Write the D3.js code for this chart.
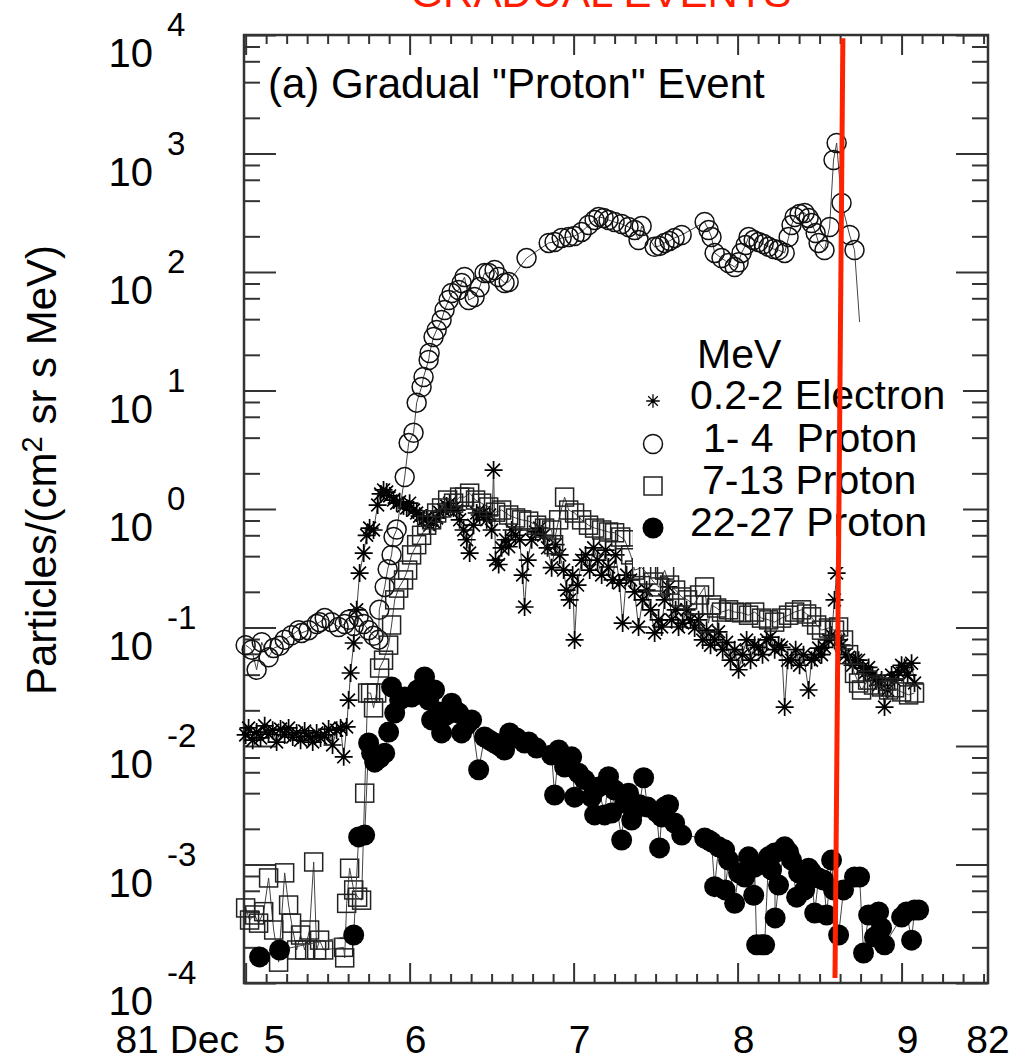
<!DOCTYPE html>
<html lang="en">
<head>
  <meta charset="UTF-8">
  <title>Gradual "Proton" Event</title>
  <style>
    body {
      margin: 0;
      padding: 0;
      background: #fff;
    }
    svg {
      display: block;
      font-family: "Liberation Sans", Arial, Helvetica, sans-serif;
    }
    .axis path { display: none; }
    .axis line { stroke: #333; stroke-width: 2; }
    .link { fill: none; stroke: #444; stroke-width: 1; }
  </style>
</head>
<body>
  <svg id="chart" width="1013" height="1060"></svg>
  <script src="https://d3js.org/d3.v7.min.js"></script>
  <script>
    // time in days of December 1981, flux in particles/(cm2 sr s MeV)

    // 0.2-2 MeV electrons (asterisks)
    const electronDay = [5.00,5.018,5.043,5.067,5.091,5.116,5.140,5.165,5.189,5.213,5.238,5.262,5.287,5.311,5.335,5.360,5.384,5.409,5.433,5.457,
      5.482,5.506,5.530,5.555,5.579,5.598,5.616,5.628,5.640,5.659,5.677,5.695,5.720,5.738,5.756,5.780,5.805,5.823,5.841,5.860,
      5.878,5.902,5.921,5.939,5.963,5.982,6.000,6.024,6.043,6.061,6.085,6.104,6.122,6.146,6.165,6.183,6.207,6.226,6.244,6.268,
      6.287,6.305,6.329,6.348,6.366,6.390,6.409,6.427,6.451,6.470,6.488,6.500,6.512,6.524,6.543,6.561,6.585,6.604,6.622,6.646,
      6.671,6.689,6.701,6.720,6.744,6.768,6.793,6.817,6.841,6.866,6.890,6.915,6.939,6.957,6.976,6.994,7.006,7.024,7.049,7.073,
      7.098,7.122,7.146,7.171,7.195,7.213,7.238,7.256,7.280,7.299,7.323,7.348,7.372,7.396,7.421,7.445,7.470,7.494,7.518,7.537,
      7.555,7.579,7.598,7.622,7.640,7.665,7.689,7.713,7.738,7.762,7.787,7.811,7.835,7.860,7.884,7.909,7.933,7.957,7.982,8.006,
      8.030,8.055,8.079,8.104,8.128,8.152,8.177,8.201,8.226,8.250,8.268,8.287,8.305,8.329,8.354,8.378,8.402,8.433,8.451,8.470,
      8.494,8.512,8.530,8.555,8.573,8.591,8.604,8.616,8.634,8.659,8.677,8.701,8.720,8.738,8.762,8.780,8.799,8.823,8.841,8.860,
      8.878,8.896,8.915,8.939,8.957,8.982,9.000,9.018,9.037,9.061,9.079];
    const electronFlux = [1.24e-2,1.42e-2,1.12e-2,1.31e-2,1.17e-2,1.48e-2,1.26e-2,1.36e-2,1.08e-2,1.39e-2,1.24e-2,1.42e-2,1.19e-2,1.29e-2,1.12e-2,1.34e-2,1.21e-2,1.08e-2,1.29e-2,1.17e-2,
      1.24e-2,1.39e-2,1.02e-2,1.36e-2,1.42e-2,8.1e-3,1.45e-2,2.44e-2,4.13e-2,7.4e-2,0.141,0.288,0.425,0.60,0.69,0.665,1.08,1.34,1.45,1.39,
      1.29,1.19,1.12,1.15,1.06,1.02,1.12,0.98,0.925,0.87,0.81,0.84,0.73,0.78,0.84,0.94,0.98,1.06,1.12,1.02,
      0.98,0.81,0.665,0.55,0.425,0.73,0.925,0.89,0.925,0.81,0.89,0.665,2.13,0.37,0.34,0.47,0.55,0.48,0.665,0.60,
      0.55,0.277,0.149,0.37,0.55,0.64,0.69,0.60,0.47,0.32,0.50,0.41,0.305,0.207,0.171,0.277,7.85e-2,0.228,0.37,0.41,
      0.305,0.47,0.37,0.277,0.45,0.324,0.252,0.41,0.237,0.109,0.277,0.252,0.20,0.101,0.171,0.207,0.141,9.0e-2,0.116,0.101,
      0.171,0.22,0.116,0.141,0.101,0.109,0.141,0.116,9.9e-2,0.116,7.85e-2,9.5e-2,7.1e-2,7.85e-2,9.2e-2,6.5e-2,7.5e-2,5.3e-2,6.5e-2,4.4e-2,
      5.9e-2,7.85e-2,5.3e-2,7.1e-2,6.8e-2,5.9e-2,7.85e-2,8.3e-2,6.5e-2,7.1e-2,6.8e-2,2.13e-2,5.3e-2,5.3e-2,6.5e-2,4.8e-2,5.9e-2,2.97e-2,5.3e-2,5.6e-2,
      6.7e-2,5.9e-2,6.8e-2,7.85e-2,8.6e-2,0.171,0.288,7.85e-2,7.1e-2,5.9e-2,5.6e-2,4.8e-2,5.3e-2,5.3e-2,4.55e-2,4.2e-2,4.6e-2,3.97e-2,3.6e-2,3.27e-2,
      3.6e-2,2.13e-2,2.97e-2,3.97e-2,3.6e-2,4.2e-2,4.8e-2,4.6e-2,3.97e-2,5.0e-2,3.4e-2];

    // 1-4 MeV protons (open circles)
    const proton1Day = [5.00,5.037,5.067,5.098,5.140,5.171,5.207,5.238,5.280,5.323,5.341,5.384,5.433,5.451,5.482,5.524,5.567,5.604,5.628,5.659,
      5.689,5.720,5.750,5.780,5.811,5.815,5.848,5.866,5.890,5.902,5.921,5.970,5.994,6.024,6.043,6.073,6.085,6.116,6.122,6.146,
      6.165,6.195,6.213,6.238,6.256,6.299,6.317,6.335,6.360,6.396,6.427,6.457,6.482,6.518,6.543,6.579,6.604,6.713,6.848,6.884,
      6.927,6.970,7.006,7.049,7.091,7.128,7.152,7.183,7.213,7.250,7.293,7.335,7.372,7.396,7.415,7.494,7.524,7.555,7.585,7.616,
      7.659,7.799,7.823,7.841,7.860,7.902,7.945,7.982,8.006,8.024,8.049,8.067,8.098,8.128,8.159,8.189,8.220,8.250,8.287,8.311,
      8.329,8.348,8.378,8.409,8.433,8.451,8.476,8.494,8.530,8.561,8.585,8.604,8.634,8.683,8.713,8.744];
    const proton1Flux = [7.1e-2,6.5e-2,4.4e-2,7.5e-2,5.6e-2,6.7e-2,7.0e-2,7.9e-2,8.6e-2,9.5e-2,9.0e-2,9.5e-2,0.107,0.111,0.120,0.111,0.101,0.107,0.116,0.103,
      0.123,0.107,0.095,0.085,0.079,0.141,0.22,0.31,0.41,0.58,0.67,1.86,3.6,4.4,7.9,10.7,13.0,18.1,20.7,28.3,
      32.4,39.4,47.8,58,66.5,70.5,80.8,90.7,58,61.5,74.7,98,98,104,90.7,80.8,82.4,131,176,179,
      194,197,201,218,249,275,291,286,275,264,254,240,226,186,244,163,166,176,183,194,
      205,264,226,197,145,131,119,110,121,145,169,197,186,179,172,163,156,153,145,197,
      249,291,308,315,286,259,213,176,153,240,881,1227,382,205,153,37.8];

    // 7-13 MeV protons (open squares)
    const proton7Day = [5.00,5.024,5.055,5.079,5.110,5.140,5.171,5.201,5.238,5.262,5.280,5.311,5.335,5.360,5.390,5.415,5.433,5.451,5.476,5.598,
      5.604,5.616,5.634,5.659,5.683,5.707,5.726,5.744,5.762,5.780,5.799,5.817,5.841,5.872,5.890,5.909,5.933,5.963,5.988,6.012,
      6.043,6.073,6.104,6.134,6.165,6.195,6.232,6.268,6.305,6.335,6.366,6.402,6.439,6.482,6.524,6.561,6.604,6.646,6.683,6.726,
      6.774,6.823,6.866,6.878,6.909,6.945,6.970,7.006,7.049,7.091,7.128,7.171,7.213,7.250,7.287,7.311,7.348,7.372,7.415,7.457,
      7.488,7.518,7.555,7.585,7.622,7.659,7.695,7.732,7.768,7.799,7.823,7.841,7.872,7.902,7.945,7.982,8.024,8.067,8.104,8.146,
      8.189,8.226,8.268,8.311,8.348,8.390,8.421,8.451,8.482,8.512,8.555,8.591,8.616,8.646,8.677,8.713,8.738,8.756,8.793,8.829,
      8.878,8.921,8.957,9.000,9.043,9.079];
    const proton7Flux = [4.3e-4,3.4e-4,3.75e-4,3.2e-4,4.0e-4,7.7e-4,2.8e-4,1.5e-4,8.5e-4,4.55e-4,3.2e-4,1.9e-4,2.54e-4,1.9e-4,2.8e-4,1.05e-3,1.9e-4,2.3e-4,1.9e-4,2.0e-4,
      1.63e-4,4.7e-4,9.3e-4,6.1e-4,5.3e-4,5.0e-4,4.0e-3,2.8e-2,2.8e-2,2.1e-2,2.8e-2,4.55e-2,5.3e-2,7.1e-2,0.105,0.171,0.215,0.252,0.305,0.41,
      0.50,0.60,0.73,0.81,0.925,1.02,1.19,1.12,1.26,1.26,1.36,1.19,1.12,1.04,0.94,0.98,0.89,0.84,0.81,0.79,
      0.73,0.69,0.665,0.50,0.81,1.26,0.98,0.925,0.81,0.73,0.69,0.665,0.64,0.63,0.58,0.55,0.41,0.305,0.32,0.277,
      0.242,0.22,0.305,0.228,0.207,0.181,0.171,0.155,0.188,0.22,0.109,0.155,0.146,0.135,0.141,0.135,0.133,0.127,0.135,0.12,
      0.116,0.111,0.12,0.127,0.135,0.141,0.13,0.123,0.105,9.5e-2,9.9e-2,9.5e-2,0.101,7.85e-2,5.9e-2,4.1e-2,3.4e-2,2.97e-2,3.6e-2,3.27e-2,
      3.15e-2,2.97e-2,3.1e-2,2.86e-2,2.7e-2,2.8e-2];

    // 22-27 MeV protons (filled circles)
    const proton22Day = [5.085,5.207,5.659,5.689,5.726,5.750,5.768,5.787,5.817,5.848,5.872,5.890,5.909,5.939,5.970,6.012,6.049,6.091,6.116,6.134,
      6.152,6.177,6.195,6.226,6.256,6.287,6.299,6.317,6.348,6.378,6.421,6.457,6.488,6.518,6.549,6.579,6.610,6.652,6.701,6.726,
      6.774,6.866,6.884,6.909,6.945,6.970,6.988,7.006,7.030,7.067,7.110,7.128,7.152,7.189,7.213,7.232,7.250,7.293,7.311,7.335,
      7.354,7.372,7.402,7.427,7.451,7.506,7.524,7.537,7.555,7.579,7.616,7.659,7.799,7.823,7.841,7.860,7.884,7.921,7.924,7.945,
      7.982,8.006,8.043,8.067,8.098,8.104,8.116,8.146,8.165,8.189,8.207,8.226,8.229,8.250,8.287,8.311,8.329,8.360,8.372,8.409,
      8.433,8.451,8.470,8.494,8.524,8.543,8.573,8.585,8.616,8.646,8.713,8.744,8.768,8.799,8.835,8.860,8.878,8.896,9.000,9.030,
      9.061,9.079,9.104];
    const proton22Flux = [1.66e-4,1.9e-4,2.54e-4,1.71e-3,1.77e-3,1.06e-2,8.7e-3,7.3e-3,7.9e-3,8.7e-3,1.31e-2,3.15e-2,1.9e-2,2.44e-2,2.59e-2,2.59e-2,2.97e-2,3.82e-2,2.44e-2,1.66e-2,
      2.97e-2,1.94e-2,1.29e-2,1.83e-2,2.3e-2,1.94e-2,1.9e-2,1.29e-2,1.5e-2,1.66e-2,6.3e-3,1.19e-2,1.12e-2,1.06e-2,1.0e-2,9.25e-3,1.29e-2,1.17e-2,1.06e-2,1.08e-2,
      9.6e-3,8.4e-3,3.86e-3,9.25e-3,6.65e-3,7.6e-3,8.1e-3,3.7e-3,5.9e-3,5.2e-3,3.7e-3,2.62e-3,4.5e-3,2.62e-3,5.5e-3,2.72e-3,4.25e-3,1.61e-3,3.3e-3,4.0e-3,
      2.37e-3,2.88e-3,3.2e-3,5.4e-3,3.05e-3,2.77e-3,1.38e-3,2.52e-3,3.05e-3,3.2e-3,2.24e-3,1.77e-3,1.67e-3,1.61e-3,1.55e-3,6.5e-4,1.41e-3,1.33e-3,6.1e-4,1.09e-3,
      4.7e-4,8.5e-4,7.85e-4,1.16e-3,5.5e-4,9.5e-4,2.1e-4,2.1e-4,2.1e-4,1.16e-3,9.0e-4,1.25e-3,3.54e-4,6.7e-4,1.41e-3,1.27e-3,1.09e-3,5.3e-4,8.5e-4,6.1e-4,
      9.3e-4,8.6e-4,3.9e-4,7.7e-4,7.4e-4,3.75e-4,1.09e-3,6.1e-4,2.54e-4,6.1e-4,7.85e-4,7.85e-4,1.79e-4,3.75e-4,2.44e-4,3.97e-4,2.91e-4,2.1e-4,3.6e-4,3.97e-4,
      2.3e-4,4.13e-4,4.13e-4];

    const dayTicks = [5, 6, 7, 8, 9];
    const dayLabels = ['5', '6', '7', '8', '9'];
    const decades = [-4, -3, -2, -1, 0, 1, 2, 3, 4];
    const legendLabels = ['0.2-2 Electron', '1- 4  Proton', '7-13 Proton', '22-27 Proton'];
    // hand-drawn red marker line: [day, flux] at both ends
    const markerLine = [[8.642, 9.4e3], [8.594, 1.1e-4]];

    const svg = d3.select('#chart');
    const plotLeft = 244, plotRight = 988, plotTop = 35, plotBottom = 983;

    const x = d3.scaleLinear().domain([4.99, 9.527]).range([plotLeft, plotRight]);
    const y = d3.scaleLog().domain([1e-4, 1e4]).range([plotBottom, plotTop]);

    // red header, cut by the top edge
    svg.append('text')
      .attr('x', 601).attr('y', 7)
      .attr('text-anchor', 'middle')
      .attr('font-size', 42)
      .attr('fill', '#ff1a00')
      .text('GRADUAL EVENTS');

    // ticks
    const minorDays = d3.range(40).map(i => 5 + i * 0.125).filter(d => d <= 9.52 && d % 1 !== 0);
    const minorFlux = [];
    decades.slice(0, -1).forEach(e => [2, 4, 6, 8].forEach(m => minorFlux.push(m * Math.pow(10, e))));
    const majorFlux = decades.map(e => Math.pow(10, e));

    const addAxis = (axis, tr) => svg.append('g').attr('class', 'axis').attr('transform', tr).call(axis);
    addAxis(d3.axisBottom(x).tickValues(minorDays).tickSize(-9).tickFormat(''), `translate(0,${plotBottom})`);
    addAxis(d3.axisBottom(x).tickValues(dayTicks).tickSize(-20).tickFormat(''), `translate(0,${plotBottom})`);
    addAxis(d3.axisTop(x).tickValues(minorDays).tickSize(-9).tickFormat(''), `translate(0,${plotTop})`);
    addAxis(d3.axisTop(x).tickValues(dayTicks).tickSize(-20).tickFormat(''), `translate(0,${plotTop})`);
    addAxis(d3.axisLeft(y).tickValues(minorFlux).tickSize(-16).tickFormat(''), `translate(${plotLeft},0)`);
    addAxis(d3.axisLeft(y).tickValues(majorFlux).tickSize(-32).tickFormat(''), `translate(${plotLeft},0)`);
    addAxis(d3.axisRight(y).tickValues(minorFlux).tickSize(-16).tickFormat(''), `translate(${plotRight},0)`);
    addAxis(d3.axisRight(y).tickValues(majorFlux).tickSize(-32).tickFormat(''), `translate(${plotRight},0)`);

    svg.append('rect')
      .attr('x', plotLeft).attr('y', plotTop)
      .attr('width', plotRight - plotLeft).attr('height', plotBottom - plotTop)
      .attr('fill', 'none').attr('stroke', '#333').attr('stroke-width', 2.5);

    // y tick labels 10^n
    const yl = svg.append('g').attr('fill', '#000');
    decades.forEach(e => {
      const yy = y(Math.pow(10, e));
      yl.append('text').attr('x', 153).attr('y', yy + 32)
        .attr('text-anchor', 'end').attr('font-size', 40).text('10');
      yl.append('text').attr('x', 167).attr('y', yy + 1)
        .attr('font-size', 33).text(e);
    });

    // x tick labels
    const xl = svg.append('g').attr('font-size', 39).attr('text-anchor', 'middle');
    dayTicks.forEach((d, i) => {
      xl.append('text').attr('x', x(d) + (i === 0 ? 29 : 6)).attr('y', 1053).text(dayLabels[i]);
    });
    xl.append('text').attr('x', 239).attr('y', 1053).attr('text-anchor', 'end').text('81 Dec');
    xl.append('text').attr('x', plotRight).attr('y', 1053).text('82');

    // y axis title
    const yt = svg.append('text')
      .attr('transform', 'translate(56,470) rotate(-90)')
      .attr('text-anchor', 'middle').attr('font-size', 42);
    yt.append('tspan').text('Particles/(cm');
    yt.append('tspan').attr('font-size', 29).attr('dy', -14).text('2');
    yt.append('tspan').attr('dy', 14).text(' sr s MeV)');

    // panel title
    svg.append('text').attr('x', 268).attr('y', 98)
      .attr('font-size', 42).text('(a) Gradual "Proton" Event');

    // markers
    const starPath = 'M-9,0H9M0,-9V9M-6.4,-6.4L6.4,6.4M-6.4,6.4L6.4,-6.4';
    const drawMarker = (g, kind, small) => {
      const k = small ? 0.75 : 1;
      if (kind === 'star') g.append('path').attr('d', starPath).attr('transform', `scale(${k})`)
        .attr('stroke', '#000').attr('stroke-width', 1.7);
      if (kind === 'circle') g.append('circle').attr('r', 9.5).attr('fill', 'none').attr('stroke', '#111').attr('stroke-width', 1.5);
      if (kind === 'square') g.append('rect').attr('x', -9).attr('y', -9).attr('width', 18).attr('height', 18)
        .attr('fill', 'none').attr('stroke', '#222').attr('stroke-width', 1.5);
      if (kind === 'dot') g.append('circle').attr('r', 10.5).attr('fill', '#000');
    };

    const series = [
      { day: electronDay, flux: electronFlux, kind: 'star' },
      { day: proton1Day, flux: proton1Flux, kind: 'circle', lastLineOnly: true },
      { day: proton7Day, flux: proton7Flux, kind: 'square' },
      { day: proton22Day, flux: proton22Flux, kind: 'dot' }
    ];

    const line = d3.line().x(d => x(d[0])).y(d => y(d[1]));
    const plot = svg.append('g');
    series.forEach(s => {
      const pts = s.day.map((d, i) => [d, s.flux[i]]);
      plot.append('path').attr('class', 'link').attr('d', line(pts));
      const shown = s.lastLineOnly ? pts.slice(0, -1) : pts;
      shown.forEach(p => {
        const g = plot.append('g').attr('transform', `translate(${x(p[0])},${y(p[1])})`);
        drawMarker(g, s.kind);
      });
    });

    // legend
    svg.append('rect').attr('x', 633).attr('y', 330).attr('width', 330).attr('height', 237).attr('fill', '#fff');
    const lg = svg.append('g').attr('font-size', 41);
    lg.append('text').attr('x', 697).attr('y', 368).text('MeV');
    const legendX = [690, 703, 702, 690];
    const legendY = [409, 452, 494, 536];
    const kinds = ['star', 'circle', 'square', 'dot'];
    legendLabels.forEach((t, i) => {
      lg.append('text').attr('x', legendX[i]).attr('y', legendY[i]).style('white-space', 'pre').text(t);
      drawMarker(lg.append('g').attr('transform', `translate(653,${legendY[i] - 8})`), kinds[i], true);
    });

    // red marker line
    svg.append('line')
      .attr('x1', x(markerLine[0][0])).attr('y1', y(markerLine[0][1]))
      .attr('x2', x(markerLine[1][0])).attr('y2', y(markerLine[1][1]))
      .attr('stroke', '#ff2200').attr('stroke-width', 5);
  </script>
</body>
</html>
